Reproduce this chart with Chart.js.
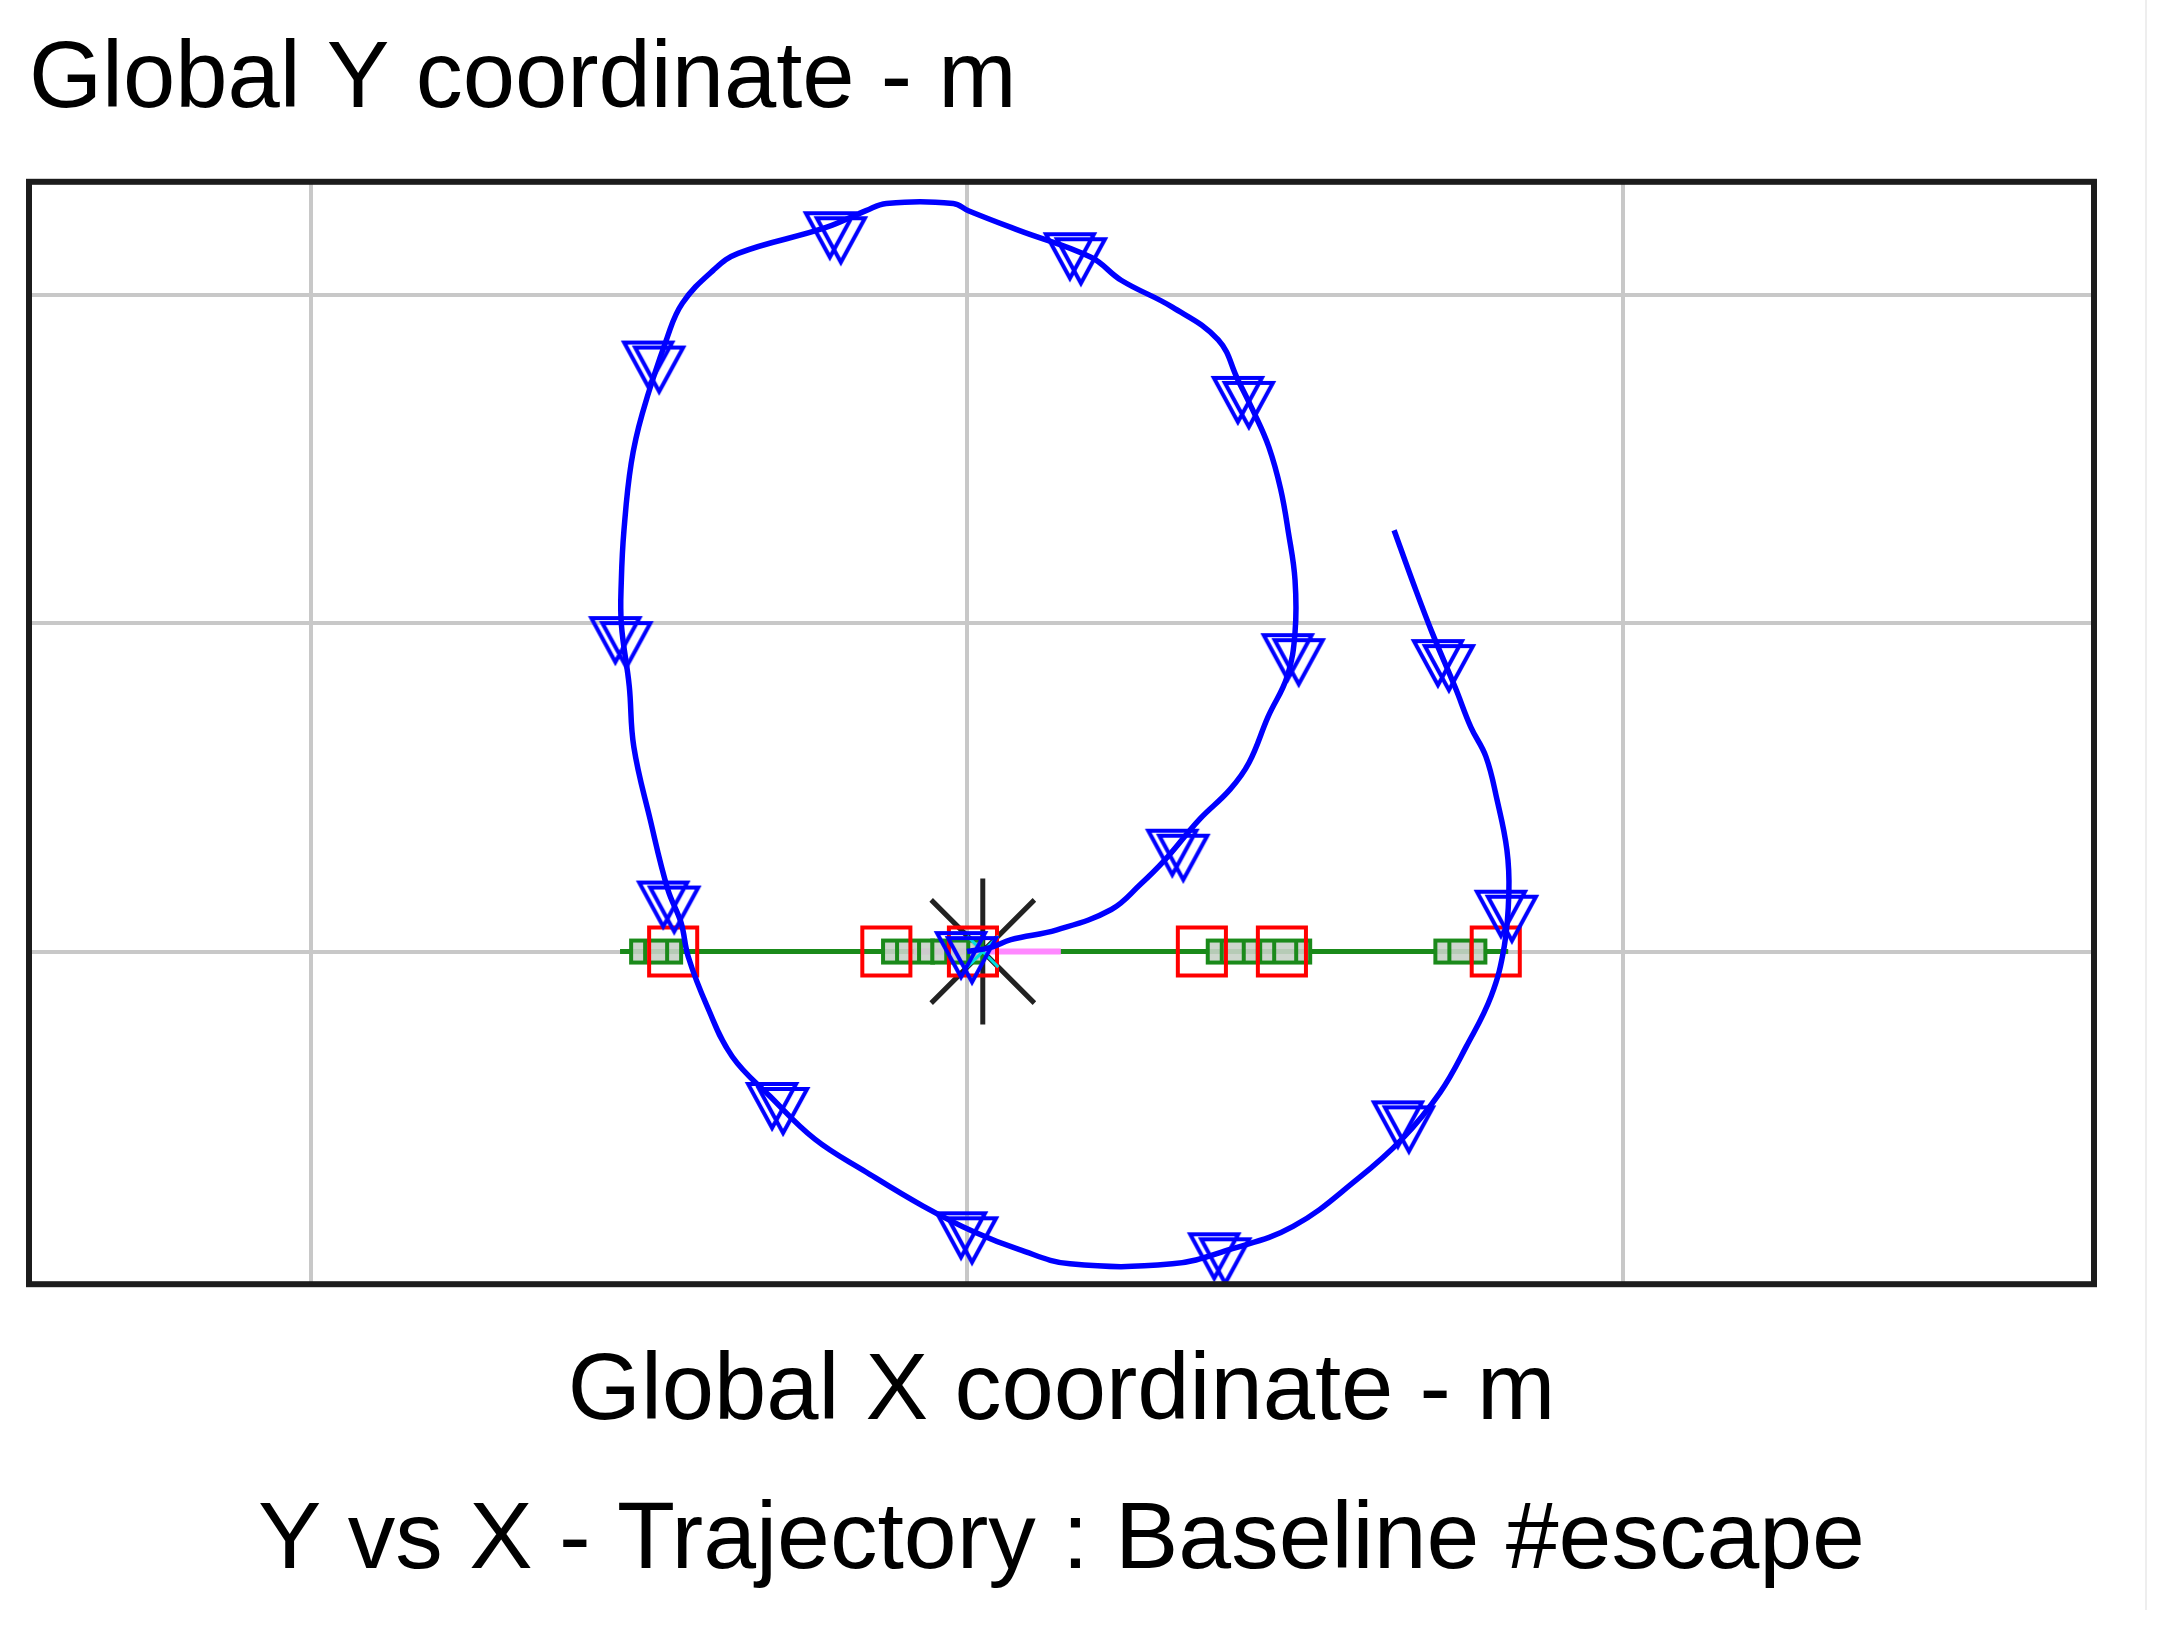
<!DOCTYPE html>
<html><head><meta charset="utf-8">
<script src="https://cdn.jsdelivr.net/npm/chart.js@4.4.0/dist/chart.umd.min.js"></script>
<style>
html,body{margin:0;padding:0;background:#fff;}
#wrap{position:relative;width:2166px;height:1643px;}
#edge{position:absolute;left:2145px;top:0;width:2px;height:1610px;background:#eeeeee;}
</style></head><body>
<div id="wrap"><canvas id="c" width="2166" height="1643"></canvas><div id="edge"></div></div>
<script>
// ---- text ----
const yTitle = 'Global Y coordinate - m';
const xTitle = 'Global X coordinate - m';
const chartTitle = 'Y vs X - Trajectory : Baseline #escape';

// ---- axis ticks (grid lines) ----
const xTicks = [-100, 0, 100];
const yTicks = [0, 50, 100];
const xRange = [-143.0, 171.8];
const yRange = [-50.7, 117.3];

// ---- trajectory (blue line) ----
const trajX = [0, 3.5, 6.7, 13.7, 22.0, 26.4, 30.2, 35.4, 40.1, 43.0, 45.9, 48.8, 50.0, 50.0, 49.0, 47.8, 46.0, 43.8, 41.3, 38.3, 31.3, 23.5, 18.9, 7.9, 0.2, -2.1, -12.3, -15.4, -21.6, -34.9, -38.7, -43.4, -45.7, -49.5, -51.2, -52.3, -52.7, -52.7, -51.5, -50.8, -48.3, -45.6, -43.6, -42.5, -39.6, -35.8, -30.0, -23.2, -15.4, -6.7, 1.2, 7.9, 15.7, 31.3, 40.1, 49.7, 59.5, 66.3, 72.1, 76.1, 79.9, 81.9, 82.6, 82.3, 80.8, 79.1, 76.8, 74.4, 70.9, 68.0, 65.1];
const trajY = [0, 0.6, 1.8, 3.3, 6.4, 10.2, 14.0, 20.1, 24.7, 28.8, 35.8, 41.9, 48.6, 56.6, 63.8, 70.5, 76.9, 82.0, 87.1, 93.2, 98.2, 102.3, 105.8, 109.9, 112.9, 114.0, 114.0, 112.9, 110.3, 106.4, 103.8, 98.8, 93.6, 82.0, 74.4, 64.2, 56.6, 49.9, 40.5, 31.2, 20.1, 9.4, 4.4, -0.8, -8.4, -16.0, -22.1, -28.6, -33.6, -38.8, -42.8, -45.4, -47.6, -47.6, -45.4, -41.9, -34.7, -28.6, -21.5, -14.5, -6.8, 0.8, 9.0, 15.5, 23.1, 29.7, 34.2, 40.3, 48.6, 56.2, 64.2];

// ---- timed markers on the trajectory (triangles) ----
const markX = [0, 32.2, 49.8, 42.2, 16.6, -20.0, -47.7, -52.7, -45.4, -28.8, 0, 38.6, 66.6, 82.3, 72.7];
const markY = [-1, 14.6, 44.4, 83.6, 105.5, 108.7, 89.0, 47.0, 6.7, -24.0, -43.7, -46.9, -26.8, 5.3, 43.5];

// ---- reference line along Y = 0 (green) ----
const greenLineX = [-52.9, 82.5];
const greenLineY = [0, 0];
const greenRectX = [-47.4, -9.0, -1.5, 40.5, 48.5, 75.2];
const greenRectY = [0, 0, 0, 0, 0, 0];

// ---- red squares ----
const redSqX = [-44.8, -12.3, 0.9, 35.8, 48.0, 80.6];
const redSqY = [0, 0, 0, 0, 0, 0];

// ---- pink segment ----
const pinkX = [-8.1, 14.3];
const pinkY = [0, 0];

// ---- start point ----
const startX = [2.4];
const startY = [0];

const pts = (xs, ys) => xs.map((x, i) => ({x, y: ys[i]}));

// custom marker images (styles)
function doubleTriangle(color) {
  const c = document.createElement('canvas'); c.width = 68; c.height = 60;
  const g = c.getContext('2d'); g.strokeStyle = color; g.lineWidth = 4;
  const tri = (ox, oy) => { g.beginPath(); g.moveTo(ox, oy); g.lineTo(ox + 48, oy); g.lineTo(ox + 24, oy + 44); g.closePath(); g.stroke(); };
  tri(4, 5); tri(15, 10);
  return c;
}
function doubleRect(color) {
  const c = document.createElement('canvas'); c.width = 58; c.height = 32;
  const g = c.getContext('2d'); g.strokeStyle = color; g.lineWidth = 4;
  g.fillStyle = 'rgba(200,210,200,0.9)';
  g.fillRect(4, 5, 50, 22);
  g.strokeRect(4, 5, 36, 22); g.strokeRect(18, 5, 36, 22);
  return c;
}
const triImg = doubleTriangle('#0000ff');
const rectImg = doubleRect('#1a8a1a');

const FONT = '"Liberation Sans", Arial, sans-serif';

const framePlugin = {
  id: 'frame',
  afterDatasetsDraw(chart) {
    const {ctx, chartArea: a} = chart;
    ctx.save();
    ctx.strokeStyle = '#1c1c1c'; ctx.lineWidth = 6;
    ctx.strokeRect(a.left, a.top, a.right - a.left, a.bottom - a.top);
    ctx.restore();
  }
};

new Chart(document.getElementById('c'), {
  type: 'scatter',
  data: {
    datasets: [
      {label: 'marks', data: pts(markX, markY), pointStyle: triImg, pointRadius: 30, order: 1},
      {label: 'traj', data: pts(trajX, trajY), showLine: true, borderColor: '#0000ff', borderWidth: 5.5, pointRadius: 0, tension: 0.4, fill: false, order: 2},
      {label: 'start2', data: pts(startX, startY), pointStyle: 'crossRot', pointRadius: 22, borderColor: '#00e0e0', borderWidth: 3, order: 3},
      {label: 'red', data: pts(redSqX, redSqY), pointStyle: 'rect', pointRadius: 34, borderColor: '#ff0000', borderWidth: 4, backgroundColor: 'transparent', order: 4},
      {label: 'greenRects', data: pts(greenRectX, greenRectY), pointStyle: rectImg, pointRadius: 25, order: 5},
      {label: 'pink', data: pts(pinkX, pinkY), showLine: true, borderColor: '#ff88ff', borderWidth: 6, pointRadius: 0, order: 6},
      {label: 'green', data: pts(greenLineX, greenLineY), showLine: true, borderColor: '#1a8a1a', borderWidth: 5, pointRadius: 0, order: 7},
      {label: 'start', data: pts(startX, startY), pointStyle: 'star', pointRadius: 73, borderColor: '#222', borderWidth: 5, backgroundColor: 'transparent', order: 8}
    ]
  },
  options: {
    responsive: false,
    animation: false,
    devicePixelRatio: 1,
    layout: {autoPadding: false, padding: {left: 29, right: 72, top: 25, bottom: 44}},
    plugins: {
      legend: {display: false},
      tooltip: {enabled: false},
      title: {display: true, text: yTitle, align: 'start', color: '#000', font: {family: FONT, size: 94, weight: 'normal', lineHeight: 1.2}, padding: {top: 0, bottom: 44}},
      subtitle: {display: true, position: 'bottom', text: chartTitle, color: '#000', font: {family: FONT, size: 95, weight: 'normal', lineHeight: 1.2}, padding: {top: 36, bottom: 0}}
    },
    scales: {
      x: {
        type: 'linear', min: xRange[0], max: xRange[1],
        afterBuildTicks: s => { s.ticks = xTicks.map(v => ({value: v})); },
        ticks: {display: false},
        grid: {color: '#c8c8c8', lineWidth: 4, drawTicks: false},
        border: {display: false},
        title: {display: true, text: xTitle, color: '#000', font: {family: FONT, size: 94, lineHeight: 1.2}, padding: {top: 52, bottom: 0}}
      },
      y: {
        type: 'linear', min: yRange[0], max: yRange[1],
        afterBuildTicks: s => { s.ticks = yTicks.map(v => ({value: v})); },
        ticks: {display: false},
        grid: {color: '#c8c8c8', lineWidth: 4, drawTicks: false},
        border: {display: false}
      }
    }
  },
  plugins: [framePlugin]
});
</script>
</body></html>
